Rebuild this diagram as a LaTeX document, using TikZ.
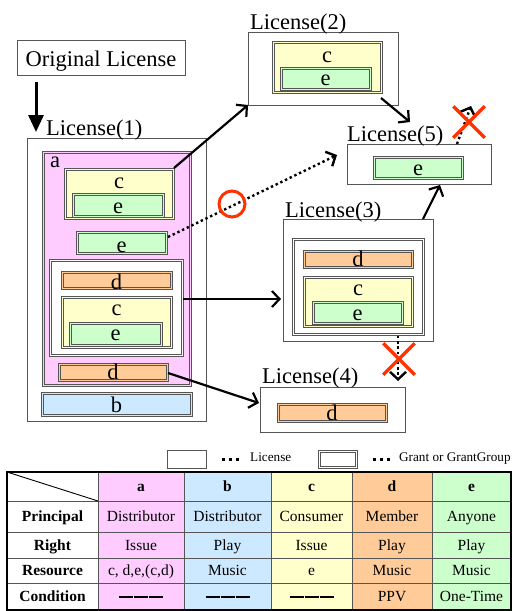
\documentclass[tikz,border=0pt]{standalone}
\usepackage{fontspec}
\setmainfont{Liberation Serif}
\usetikzlibrary{arrows.meta,shapes.misc}
\definecolor{ca}{HTML}{FFCCFF}
\definecolor{cb}{HTML}{CCE9FF}
\definecolor{cc}{HTML}{FFFFCC}
\definecolor{cd}{HTML}{FFCC99}
\definecolor{ce}{HTML}{CCFFCC}
\definecolor{bord}{HTML}{555555}
\definecolor{xred}{HTML}{FF3300}
\newcommand\rbox[6]{\node[#2, anchor=north west, minimum width={#5pt-#3pt}, minimum height={#6pt-#4pt}] (#1) at (#3,#4) {};}
\newcommand\gbox[6]{\node[fill=#2, inner sep=0pt, outer sep=0pt, anchor=north west, minimum width={#5pt-#3pt}, minimum height={#6pt-#4pt}] (#1) at (#3,#4) {};
  \draw[gline] (#1.north west) rectangle (#1.south east);
  \draw[gline] ([xshift=2pt,yshift=-2pt]#1.north west) rectangle ([xshift=-2pt,yshift=2pt]#1.south east);}
\newcommand\bigf{\fontsize{22.5}{24}\selectfont}
\newcommand\tfont{\fontsize{15.5}{17}\selectfont}
\newcommand\legf{\fontsize{13.2}{15}\selectfont}
\newcommand\nodash{\rule[4pt]{14pt}{2pt}\hspace{1pt}\rule[4pt]{14pt}{2pt}\hspace{1pt}\rule[4pt]{14pt}{2pt}}
\tikzset{
  lic/.style={draw=bord, line width=0.9pt, fill=white, inner sep=0pt, outer sep=0pt},
  gline/.style={draw=bord, line width=0.9pt},
  lbl/.style={font=\bigf, inner sep=0pt, anchor=base},
  ttl/.style={font=\bigf, inner sep=0pt, anchor=base west},
  arr/.style={line width=2.2pt, -{Straight Barb[length=7.5pt,width=16pt]}},
  dotarr/.style={line width=2.4pt, dash pattern=on 2.4pt off 2.8pt, -{Straight Barb[length=7.5pt,width=16pt]}},
  xmark/.style={cross out, draw=xred, line width=3.5pt, minimum size=28pt, inner sep=0pt},
  tcell/.style={font=\tfont, inner sep=0pt, text height=10.5pt, text depth=0pt},
}
\begin{document}
\begin{tikzpicture}[x=1pt,y=-1pt]
\useasboundingbox (0,0) rectangle (512,611);
% ---- boxes
\rbox{Orig}{lic}{17}{40}{185}{75}
\node[lbl] (origt) at (101,66) {Original License};
\rbox{L1}{lic}{27}{138}{206}{421}
\gbox{A}{ca}{42}{151}{191}{386}
\gbox{C1}{cc}{64}{168}{174}{219}
\gbox{E1}{ce}{72}{193}{164}{217}
\gbox{E2}{ce}{76}{231}{167}{254}
\gbox{G1}{white}{49}{259}{183}{356}
\gbox{D1}{cd}{61}{271}{172}{289}
\gbox{C2}{cc}{61}{296}{172}{348}
\gbox{E3}{ce}{69}{322}{162}{346}
\gbox{D2}{cd}{58}{363}{168}{381}
\gbox{B}{cb}{41}{392}{192}{416}
\rbox{L2}{lic}{248}{32}{398}{105}
\gbox{C3}{cc}{272}{41}{382}{93}
\gbox{E4}{ce}{280}{67}{371}{90}
\rbox{L5}{lic}{347}{144}{491}{184}
\gbox{E5}{ce}{373}{156}{463}{179}
\rbox{L3}{lic}{283}{219}{433}{341}
\gbox{G3}{white}{292}{238}{424}{335}
\gbox{D3}{cd}{303}{250}{413}{268}
\gbox{C4}{cc}{303}{276}{413}{327}
\gbox{E6}{ce}{312}{301}{403}{324}
\rbox{L4}{lic}{260}{387}{405}{432}
\gbox{D4}{cd}{277}{403}{387}{422}
% ---- titles
\node[ttl] (t1) at (46,135) {License(1)};
\node[ttl] (t2) at (250,29) {License(2)};
\node[ttl] (t5) at (347,141) {License(5)};
\node[ttl] (t3) at (285,217) {License(3)};
\node[ttl] (t4) at (262,383) {License(4)};
% ---- labels
\node[ttl] (la) at (50,167) {a};
\node[lbl] (lc1) at (119,188) {c};
\node[lbl] (le1) at (118,213) {e};
\node[lbl] (le2) at (121.5,252) {e};
\node[lbl] (ld1) at (116.5,289) {d};
\node[lbl] (lc2) at (116.5,315) {c};
\node[lbl] (le3) at (115.5,340) {e};
\node[lbl] (ld2) at (113,379) {d};
\node[lbl] (lb) at (116.5,412) {b};
\node[lbl] (lc3) at (327,62) {c};
\node[lbl] (le4) at (325.5,85) {e};
\node[lbl] (le5) at (418,175) {e};
\node[lbl] (ld3) at (358,266) {d};
\node[lbl] (lc4) at (358,295) {c};
\node[lbl] (le6) at (357.5,320) {e};
\node[lbl] (ld4) at (332,420) {d};
% ---- connectors
\coordinate (s0) at (36,82); \coordinate (t0) at (36,132);
\draw[line width=3pt, -{Triangle[length=17pt,width=15pt]}] (s0) -- (t0);
\draw[arr] (C1.north east) -- (L2.south west);
\coordinate (s2) at (381,98); \coordinate (e2) at (410,122);
\draw[arr] (s2) -- (e2);
\coordinate (s3) at (168,237); \coordinate (e3) at (337,155);
\draw[dotarr] (s3) -- (e3);
\coordinate (s4) at (183,299); \coordinate (e4) at (281,299);
\draw[arr] (s4) -- (e4);
\coordinate (s5) at (168,373); \coordinate (e5) at (259,403);
\draw[arr] (s5) -- (e5);
\coordinate (s6) at (423,219); \coordinate (e6) at (440,185);
\draw[arr] (s6) -- (e6);
\coordinate (s7) at (398,336); \coordinate (e7) at (398,381);
\draw[dotarr] (s7) -- (e7);
\coordinate (s8) at (457,144); \coordinate (e8) at (471,106);
\draw[dotarr] (s8) -- (e8);
\node[xmark] (x1) at (399,359) {};
\node[xmark] (x2) at (469,122) {};
\node[circle, draw=xred, line width=3pt, minimum size=26pt, inner sep=0pt] (ok) at (232,204) {};
% ---- legend
\rbox{LG1}{lic}{167}{450}{206}{468}
\gbox{LG2}{white}{318}{450}{357}{468}
\coordinate (d1a) at (222,459); \coordinate (d1b) at (239,459);
\draw[line width=3pt, dash pattern=on 3pt off 4pt] (d1a) -- (d1b);
\coordinate (d2a) at (373,459); \coordinate (d2b) at (390,459);
\draw[line width=3pt, dash pattern=on 3pt off 4pt] (d2a) -- (d2b);
\node[font=\legf, inner sep=0pt, anchor=base west] (lgt1) at (250,461) {License};
\node[font=\legf, inner sep=0pt, anchor=base west] (lgt2) at (399,461) {Grant or GrantGroup};
% ---- table
\foreach \c/\xa/\xb in {ca/98/184, cb/184/271, cc/271/352, cd/352/432, ce/432/511}
  \fill[\c] (\xa,472) rectangle (\xb,610);
\foreach \x in {98,184,271,352,432}
  \draw[bord, line width=0.9pt] (\x,472) -- (\x,610);
\foreach \y in {501,532,558,583}
  \draw[bord, line width=0.9pt] (7,\y) -- (511,\y);
\draw[line width=0.9pt] (7,472) -- (98,501);
\draw[line width=2pt] (7,472) rectangle (511,610);
\foreach \x/\n in {141/a, 227.5/b, 311.5/c, 392/d, 471.5/e}
  \node[tcell, font=\tfont\bfseries] (h\n) at (\x,486.5) {\n};
\foreach \r/\y/\lab in {1/516.5/Principal, 2/545/Right, 3/570.5/Resource, 4/596.5/Condition}
  \node[tcell, font=\tfont\bfseries] (r\r) at (52.5,\y) {\lab};
\foreach \x/\n/\t in {141/a/Distributor, 227.5/b/Distributor, 311.5/c/Consumer, 392/d/Member, 471.5/e/Anyone}
  \node[tcell] (p\n) at (\x,516.5) {\t};
\foreach \x/\n/\t in {141/a/Issue, 227.5/b/Play, 311.5/c/Issue, 392/d/Play, 471.5/e/Play}
  \node[tcell] (g\n) at (\x,545) {\t};
\foreach \x/\n/\t in {141/a/{c, d,e,(c,d)}, 227.5/b/Music, 311.5/c/e, 392/d/Music, 471.5/e/Music}
  \node[tcell] (s\n) at (\x,570.5) {\t};
\foreach \x/\n/\t in {141/a/{\nodash}, 227.5/b/{\nodash}, 311.5/c/{\nodash}, 392/d/PPV, 471.5/e/One-Time}
  \node[tcell] (k\n) at (\x,596.5) {\t};
\end{tikzpicture}
\end{document}
